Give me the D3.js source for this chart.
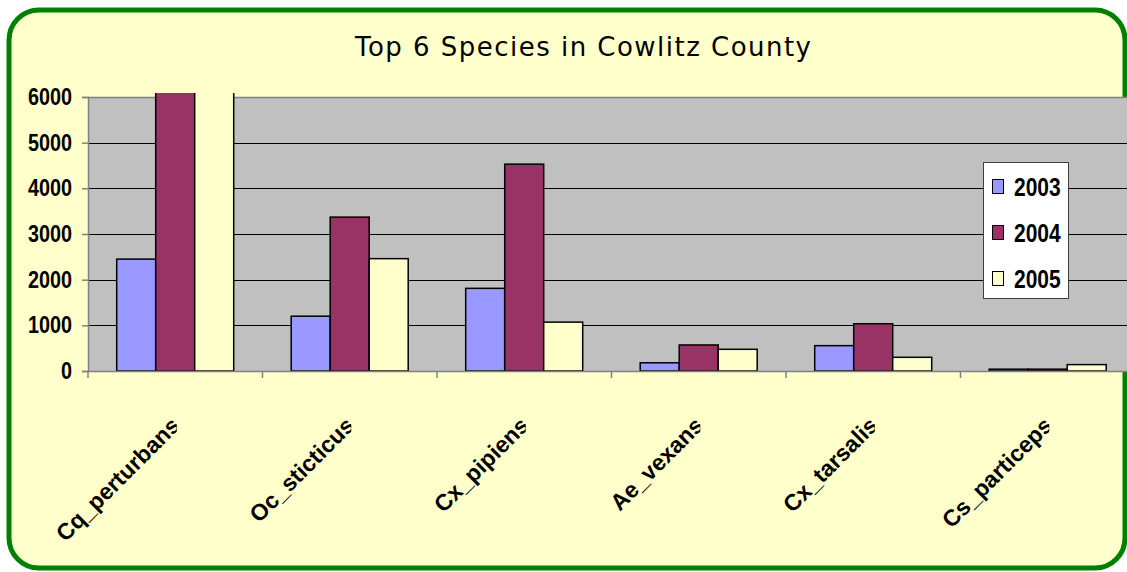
<!DOCTYPE html>
<html>
<head>
<meta charset="utf-8">
<script src="https://cdn.jsdelivr.net/npm/d3@7"></script>
<style>
  html, body { margin: 0; padding: 0; background: #ffffff; }
  svg { display: block; }
</style>
</head>
<body>
<svg id="chart" width="1127" height="572"></svg>
<script>
// ---- data ----
const categories = ["Cq_perturbans", "Oc_sticticus", "Cx_pipiens", "Ae_vexans", "Cx_tarsalis", "Cs_particeps"];
const seriesNames = ["2003", "2004", "2005"];
const values2003 = [2450, 1200, 1810, 180, 555, 40];
const values2004 = [6800, 3370, 4530, 570, 1035, 40];
const values2005 = [7400, 2460, 1070, 475, 300, 140];
const yTicks = [0, 1000, 2000, 3000, 4000, 5000, 6000];
const titleText = "Top 6 Species in Cowlitz County";
const colors = ["#9999FF", "#993366", "#FFFFCC"];

const series = [values2003, values2004, values2005];

const svg = d3.select("#chart");
const W = 1127, H = 572;
const labelFont = "'Liberation Sans', Arial, sans-serif";

// frame
svg.append("rect")
  .attr("x", 9).attr("y", 10).attr("width", 1116).attr("height", 558)
  .attr("rx", 30).attr("ry", 30)
  .attr("fill", "#FFFFCC").attr("stroke", "#008000").attr("stroke-width", 5);

// title
svg.append("text")
  .attr("x", 355).attr("y", 56)
  .attr("textLength", 456).attr("lengthAdjust", "spacing")
  .attr("font-family", "'DejaVu Sans', Verdana, sans-serif")
  .attr("font-size", 26)
  .attr("fill", "#000")
  .text(titleText);

// scales
const plotLeft = 88, plotTop = 97, plotBottom = 371;
const step = 174.5;
const plotRight = plotLeft + step * categories.length;

const x0 = d3.scaleBand().domain(categories).range([plotLeft, plotRight]).paddingInner(0).paddingOuter(0);
const x1 = d3.scaleBand().domain(seriesNames).range([28.7, 28.7 + 117]);
const y = d3.scaleLinear().domain([0, 6000]).range([plotBottom, plotTop]);

// plot area background
svg.append("rect")
  .attr("x", plotLeft).attr("y", plotTop)
  .attr("width", plotRight - plotLeft).attr("height", plotBottom - plotTop)
  .attr("fill", "#C0C0C0");

// gridlines
svg.append("g").selectAll("line")
  .data(yTicks.filter(d => d > 0 && d < 6000))
  .join("line")
  .attr("x1", plotLeft).attr("x2", plotRight)
  .attr("y1", d => Math.round(y(d)) + 0.5).attr("y2", d => Math.round(y(d)) + 0.5)
  .attr("stroke", "#000").attr("stroke-width", 1);

// top border of plot
svg.append("line")
  .attr("x1", plotLeft).attr("x2", plotRight)
  .attr("y1", plotTop + 0.5).attr("y2", plotTop + 0.5)
  .attr("stroke", "#808080").attr("stroke-width", 1.5);

// bars, clipped a little above the plot
const defs = svg.append("defs");
defs.append("clipPath").attr("id", "barclip")
  .append("rect").attr("x", 0).attr("y", 93).attr("width", W).attr("height", plotBottom - 93 + 2);

const barData = [];
categories.forEach((c, i) => {
  seriesNames.forEach((s, j) => {
    barData.push({ cat: c, ser: s, val: series[j][i], color: colors[j] });
  });
});

svg.append("g").attr("clip-path", "url(#barclip)")
  .selectAll("rect")
  .data(barData)
  .join("rect")
  .attr("x", d => x0(d.cat) + x1(d.ser))
  .attr("y", d => y(d.val))
  .attr("width", x1.bandwidth())
  .attr("height", d => plotBottom - y(d.val))
  .attr("fill", d => d.color)
  .attr("stroke", "#000")
  .attr("stroke-width", 1.5);

// y axis
const yAxis = d3.axisLeft(y).tickValues(yTicks).tickSize(6).tickPadding(10).tickFormat(d3.format("d"));
const gy = svg.append("g").attr("transform", `translate(${plotLeft},0)`).call(yAxis);
gy.select(".domain").attr("stroke", "#808080").attr("stroke-width", 1.5);
gy.selectAll(".tick line").attr("stroke", "#808080").attr("stroke-width", 1.5);
gy.selectAll(".tick text")
  .attr("x", 0)
  .attr("transform", "translate(-16,0) scale(0.86,1)")
  .attr("font-family", labelFont)
  .attr("font-weight", "bold")
  .attr("font-size", 23)
  .attr("fill", "#000");

// x axis
const xAxis = d3.axisBottom(x0).tickSize(0).tickFormat("");
const gx = svg.append("g").attr("transform", `translate(0,${plotBottom})`).call(xAxis);
gx.select(".domain").attr("stroke", "#808080").attr("stroke-width", 1.5);
gx.selectAll(".tick").remove();
// category boundary ticks
svg.append("g").selectAll("line")
  .data(d3.range(categories.length + 1))
  .join("line")
  .attr("x1", i => plotLeft + i * step).attr("x2", i => plotLeft + i * step)
  .attr("y1", plotBottom).attr("y2", plotBottom + 7)
  .attr("stroke", "#808080").attr("stroke-width", 1.5);

// x labels (rotated, clipped at category centre)
categories.forEach((c, i) => {
  const cx = x0(c) + x0.bandwidth() / 2;
  defs.append("clipPath").attr("id", "lc" + i)
    .append("rect").attr("x", 0).attr("y", 0).attr("width", cx + 1.5).attr("height", H);
  svg.append("g").attr("clip-path", `url(#lc${i})`)
    .append("text")
    .attr("transform", `translate(${cx + 6},${plotBottom + 56}) rotate(-45)`)
    .attr("text-anchor", "end")
    .attr("font-family", labelFont)
    .attr("font-weight", "bold")
    .attr("font-size", 23)
    .attr("fill", "#000")
    .text(c);
});

// legend
const lg = svg.append("g");
lg.append("rect")
  .attr("x", 983.5).attr("y", 162.5).attr("width", 85).attr("height", 136)
  .attr("fill", "#FFFFFF").attr("stroke", "#404040").attr("stroke-width", 1);
seriesNames.forEach((s, j) => {
  const cy = 187 + j * 46;
  lg.append("rect")
    .attr("x", 992.5).attr("y", cy - 7.5).attr("width", 11).attr("height", 14)
    .attr("fill", colors[j]).attr("stroke", "#000").attr("stroke-width", 1);
  lg.append("text")
    .attr("transform", `translate(1014,${cy + 9}) scale(0.84,1)`)
    .attr("font-family", labelFont)
    .attr("font-weight", "bold")
    .attr("font-size", 25)
    .attr("fill", "#000")
    .text(s);
});
</script>
</body>
</html>
